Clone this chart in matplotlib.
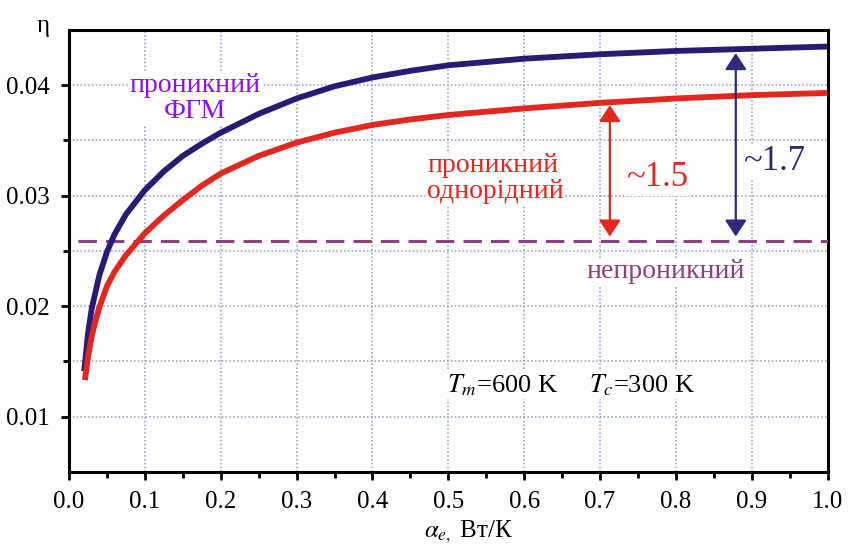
import matplotlib
matplotlib.use("Agg")
import matplotlib.pyplot as plt
from matplotlib.ticker import MultipleLocator, FixedLocator

plt.rcParams['font.family'] = ['Liberation Serif', 'DejaVu Serif']
plt.rcParams['mathtext.fontset'] = 'stix'

# curve "проникний ФГМ"
fgm_alpha = [0.02, 0.025, 0.03, 0.04, 0.05, 0.06, 0.075, 0.1, 0.125, 0.15, 0.175,
             0.2, 0.25, 0.3, 0.35, 0.4, 0.45, 0.5, 0.6, 0.7, 0.8, 0.9, 1.0]
fgm_eta = [0.0141, 0.0175, 0.0198, 0.0228, 0.0249, 0.0265, 0.0283, 0.0305, 0.0322, 0.0336, 0.0347,
           0.0357, 0.0374, 0.0388, 0.0399, 0.0407, 0.0413, 0.0418, 0.0424, 0.0428, 0.0431, 0.0433, 0.0435]

# curve "проникний однорідний"
hom_alpha = [0.021, 0.025, 0.03, 0.035, 0.04, 0.05, 0.06, 0.075, 0.1, 0.125, 0.15, 0.175,
             0.2, 0.25, 0.3, 0.35, 0.4, 0.45, 0.5, 0.6, 0.7, 0.8, 0.9, 1.0]
hom_eta = [0.0133, 0.0154, 0.0173, 0.0187, 0.0199, 0.0218, 0.0231, 0.0246, 0.0266, 0.0282, 0.0296, 0.0309,
           0.0320, 0.0336, 0.0348, 0.0357, 0.0364, 0.0369, 0.0373, 0.0379, 0.0384, 0.0388, 0.0391, 0.0393]

# "непроникний" level
nonpen_alpha = [0.012, 1.0]
nonpen_eta = 0.0259

# ratio arrows
arrow_alpha = [0.713, 0.879]
arrow_low = [0.0263, 0.0263]
arrow_high = [0.0382, 0.0429]

xticks = [0.0, 0.1, 0.2, 0.3, 0.4, 0.5, 0.6, 0.7, 0.8, 0.9, 1.0]
yticks = [0.01, 0.02, 0.03, 0.04]

blue = '#2b1a74'
red = '#e1271f'
mauve = '#8e3f7f'
grid_c = '#8a9bcb'

fig = plt.figure(figsize=(8.5, 5.47), dpi=100)
ax = fig.add_axes([0.0812, 0.1376, 0.8924, 0.8076])

ax.plot(fgm_alpha, fgm_eta, color=blue, lw=4.2, solid_capstyle='butt',
        solid_joinstyle='round', zorder=4)
ax.plot(hom_alpha, hom_eta, color=red, lw=4.2, solid_capstyle='butt',
        solid_joinstyle='round', zorder=4)
ax.plot(nonpen_alpha, [nonpen_eta, nonpen_eta], color=mauve, lw=2.2,
        dashes=(6, 3), zorder=3)

for a, lo, hi, c in zip(arrow_alpha, arrow_low, arrow_high, [red, '#2e2a7a']):
    ax.annotate('', xy=(a, hi), xytext=(a, lo),
                arrowprops=dict(arrowstyle='<|-|>,head_length=0.5,head_width=0.33',
                                mutation_scale=20, color=c, lw=1.6,
                                shrinkA=0, shrinkB=0), zorder=5)

ax.set_xlim(0, 1.0)
ax.set_ylim(0.005, 0.045)
ax.set_xticks(xticks)
ax.set_xticklabels([f'{v:.1f}' for v in xticks])
ax.xaxis.set_minor_locator(MultipleLocator(0.05))
ax.set_yticks(yticks)
ax.set_yticklabels([f'{v:.2f}' for v in yticks])
ax.yaxis.set_minor_locator(FixedLocator([0.015, 0.025, 0.035]))

ax.grid(True, which='major', color=grid_c, ls=(0, (1, 1.5)), lw=1.1)
ax.grid(True, which='minor', axis='y', color=grid_c, ls=(0, (1, 1.5)), lw=1.1)
ax.set_axisbelow(True)

for s in ax.spines.values():
    s.set_linewidth(2.2)
ax.tick_params(which='major', direction='out', length=6, width=2, labelsize=18, pad=8)
ax.tick_params(which='minor', direction='out', length=4, width=2)
ax.tick_params(axis='x', which='minor', bottom=True)

box = dict(facecolor='white', edgecolor='none', pad=1)
ax.text(0.166, 0.0388, 'проникний\nФГМ', color='#8a12f0', fontsize=20,
        ha='center', va='center', linespacing=1.05, bbox=box, zorder=3)
ax.text(0.472, 0.03155, 'проникний\nоднорідний', color=red, fontsize=20,
        ha='left', va='center', linespacing=1.05, bbox=box, zorder=3)
ax.text(0.775, 0.0316, '~1.5', color=red, fontsize=25, ha='center', va='center',
        bbox=box, zorder=3)
ax.text(0.929, 0.0331, '~1.7', color='#2e2a6e', fontsize=25, ha='center', va='center',
        bbox=box, zorder=3)
ax.text(0.787, 0.0231, 'непроникний', color=mauve, fontsize=20, ha='center', va='center',
        bbox=box, zorder=3)
ax.text(0.498, 0.01217, r'$T_m$=600 K', fontsize=19, ha='left', va='baseline',
        bbox=box, zorder=3)
ax.text(0.685, 0.01217, r'$T_c$=300 K', fontsize=19, ha='left', va='baseline',
        bbox=box, zorder=3)

fig.text(0.051, 0.952, 'η', fontsize=18, ha='center', va='center')
fig.text(0.551, 0.028, r'$\alpha_{e,}$ Вт/К', fontsize=18, ha='center', va='center')

fig.savefig('out.png', dpi=100)
